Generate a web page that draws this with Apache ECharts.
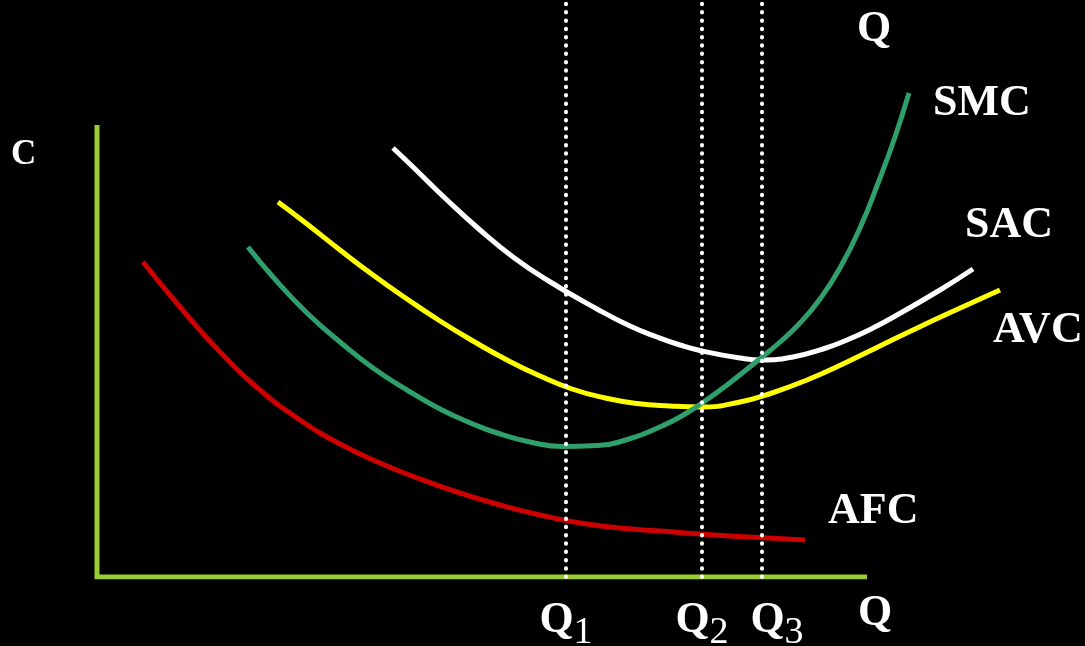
<!DOCTYPE html>
<html>
<head>
<meta charset="utf-8">
<script src="https://cdn.jsdelivr.net/npm/echarts@6/dist/echarts.min.js"></script>
<style>
html,body{margin:0;padding:0;background:#000;}
#chart{width:1085px;height:646px;}
</style>
</head>
<body>
<div id="chart"></div>
<script>
// Quantity (x) and cost (y) in chart units
var afc = [[4.6,31.5],[8.3,27.0],[12.3,22.5],[16.3,18.7],[20.3,15.7],[24.3,13.3],[28.3,11.4],[32.3,9.8],[36.3,8.4],[40.3,7.2],[44.3,6.2],[48.3,5.4],[52.3,4.9],[56.3,4.6],[60.3,4.3],[65.3,4.0],[70.8,3.7]];
var avc = [[18.1,37.5],[21.0,35.3],[24.3,32.7],[27.6,30.2],[31.0,27.8],[34.3,25.6],[37.6,23.6],[41.0,21.7],[44.3,20.1],[47.5,18.8],[50.8,17.9],[54.0,17.35],[57.3,17.1],[60.5,17.0],[64.3,17.5],[67.5,18.4],[71.0,19.7],[74.8,21.4],[78.3,23.1],[81.6,24.7],[85.0,26.3],[90.3,28.7]];
var sac = [[29.6,42.9],[31.6,41.0],[35.0,37.7],[38.3,34.7],[41.6,32.0],[45.0,29.7],[50.0,26.8],[53.3,25.1],[56.0,24.0],[58.3,23.2],[60.5,22.6],[64.3,21.9],[66.5,21.7],[69.6,22.0],[72.6,22.8],[75.0,23.7],[77.6,24.9],[80.0,26.2],[84.3,28.7],[87.6,30.8]];
var smc = [[15.1,33.0],[17.6,30.0],[21.0,26.4],[24.3,23.5],[27.6,20.9],[31.0,18.7],[34.3,16.8],[37.6,15.3],[40.0,14.4],[43.3,13.5],[46.6,13.05],[49.9,13.15],[53.2,13.8],[56.5,15.1],[58.3,16.0],[60.5,17.4],[63.0,19.2],[66.5,22.0],[68.3,23.5],[70.3,25.4],[72.3,27.8],[74.3,30.9],[76.3,34.9],[78.3,39.9],[79.8,44.0],[81.2,48.4]];
var qMarks = [46.9, 60.5, 66.5];
var qLabelValues = [46.9, 60.5, 68.0, 77.8];
var qLabelTexts = ['{q|Q}{s|1}', '{q|Q}{s|2}', '{q|Q}{s|3}', '{q|Q}'];
var axisEnds = {qEnd: 77, cTop: 45.2};
var curveNames = ['AFC', 'AVC', 'SAC', 'SMC'];

var FONT = '"Liberation Serif", "DejaVu Serif", serif';
var chart = echarts.init(document.getElementById('chart'));

function curve(name, data, color, offset) {
  return {
    type: 'line', name: name, data: data, smooth: 0.5, symbol: 'none',
    lineStyle: {color: color, width: 5, cap: 'butt'},
    endLabel: {show: true, formatter: name, color: '#fff', fontFamily: FONT, fontWeight: 'bold', fontSize: 44, distance: 0, offset: offset},
    z: 5, silent: true
  };
}

var option = {
  backgroundColor: '#000',
  animation: false,
  grid: {left: 97, right: 8, top: 0, bottom: 69, outerBoundsMode: 'none', containLabel: false},
  xAxis: {
    type: 'value', min: 0, max: 98,
    axisLine: {show: false}, axisTick: {show: false}, splitLine: {show: false},
    axisLabel: {
      customValues: qLabelValues, margin: 12,
      formatter: function (v) { return qLabelTexts[qLabelValues.indexOf(v)]; },
      rich: {
        q: {fontFamily: FONT, fontWeight: 'bold', fontSize: 44, color: '#fff', lineHeight: 50},
        s: {fontFamily: FONT, fontWeight: 'normal', fontSize: 38, color: '#fff', padding: [25, 0, 0, 0]}
      }
    }
  },
  yAxis: {type: 'value', min: 0, max: 57.7, show: false},
  series: [
    {
      type: 'line', name: 'axes', symbol: 'none', silent: true, z: 2,
      data: [[0, axisEnds.cTop], [0, 0], [axisEnds.qEnd, 0]],
      lineStyle: {color: '#9acd32', width: 5, join: 'miter', cap: 'butt'},
      markLine: {
        silent: true, symbol: ['none', 'none'], label: {show: false}, z: 10,
        lineStyle: {color: '#fff', width: 4, type: [0.5, 7.8], cap: 'round'},
        emphasis: {disabled: true},
        data: qMarks.map(function (q) { return {xAxis: q}; })
      }
    },
    curve(curveNames[0], afc, '#cc0000', [23, -28]),
    curve(curveNames[1], avc, '#ffff00', [-7, 41]),
    curve(curveNames[2], sac, '#ffffff', [-8, -43]),
    curve(curveNames[3], smc, '#2fa06b', [24, 11])
  ],
  graphic: [
    {type: 'text', left: 857, top: 8, style: {text: 'Q', fill: '#fff', font: 'bold 44px ' + FONT}},
    {type: 'text', left: 11, top: 137, style: {text: 'C', fill: '#fff', font: 'bold 35px ' + FONT}}
  ]
};
chart.setOption(option);
</script>
</body>
</html>
